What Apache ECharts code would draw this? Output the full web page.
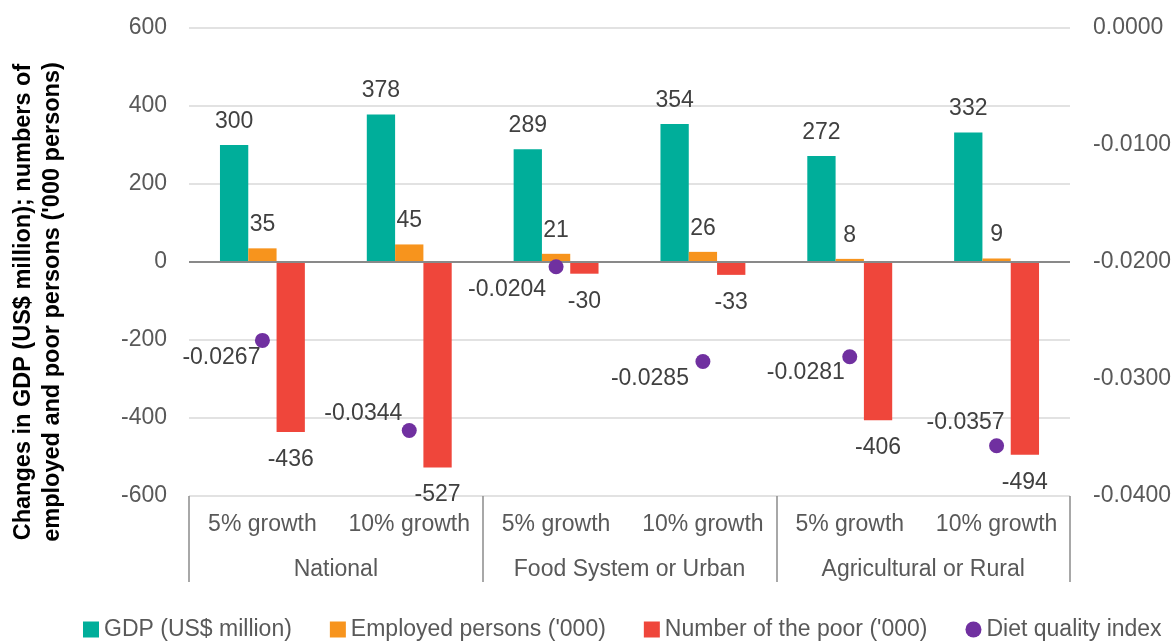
<!DOCTYPE html>
<html>
<head>
<meta charset="utf-8">
<script src="https://cdn.jsdelivr.net/npm/echarts@6/dist/echarts.min.js"></script>
<style>
html,body{margin:0;padding:0;background:#fff;}
#chart{width:1175px;height:641px;}
</style>
</head>
<body>
<div id="chart"></div>
<script>
// ---- data ----
var scenarios = ['5% growth', '10% growth', '5% growth', '10% growth', '5% growth', '10% growth'];
var groups = ['National', 'Food System or Urban', 'Agricultural or Rural'];
var gdp = [300, 378, 289, 354, 272, 332];
var employed = [35, 45, 21, 26, 8, 9];
var poor = [-436, -527, -30, -33, -406, -494];
var diet = [-0.0267, -0.0344, -0.0204, -0.0285, -0.0281, -0.0357];
var seriesNames = ['GDP (US$ million)', "Employed persons ('000)", "Number of the poor ('000)", 'Diet quality index'];
var leftTicks = {min: -600, max: 600, interval: 200};
var rightTicks = {min: -0.04, max: 0, interval: 0.01};

// label placement for the diet points (screen offsets, style only)
var dietLabelOffsets = [[-41, 17], [-46, -17], [-49, 23], [-53, 17], [-44, 16], [-31, -23]];

var FONT = '"Liberation Sans", Arial, sans-serif';
var TXT = '#595959';
var LBL = '#404040';

var chart = echarts.init(document.getElementById('chart'), null, {renderer: 'canvas'});

var dietData = diet.map(function (v, i) {
  return {value: v, label: {offset: dietLabelOffsets[i]}};
});

var option = {
  animation: false,
  textStyle: {fontFamily: FONT},
  grid: {left: 189, right: 105, top: 28, bottom: 145, containLabel: false},
  legend: {
    left: 78, top: 613, width: 1097,
    itemWidth: 16, itemHeight: 16, itemGap: 38,
    textStyle: {fontSize: 23, color: TXT, fontFamily: FONT},
    data: [
      {name: seriesNames[0], icon: 'rect'},
      {name: seriesNames[1], icon: 'rect'},
      {name: seriesNames[2], icon: 'rect'},
      {name: seriesNames[3], icon: 'circle'}
    ]
  },
  xAxis: [
    {
      type: 'category', data: scenarios, position: 'bottom',
      axisLine: {show: false, onZero: false},
      axisTick: {show: false},
      axisLabel: {interval: 0, margin: 17, fontSize: 23, color: TXT, fontFamily: FONT},
      splitLine: {show: false}
    },
    {
      type: 'category', data: groups, position: 'bottom',
      axisLine: {show: false, onZero: false},
      axisTick: {show: true, length: 86, interval: 0, alignWithLabel: false,
                 lineStyle: {color: '#8c8c8c', width: 1.5}},
      axisLabel: {interval: 0, margin: 62, fontSize: 23, color: TXT, fontFamily: FONT},
      splitLine: {show: false}
    }
  ],
  yAxis: [
    {
      type: 'value', min: leftTicks.min, max: leftTicks.max, interval: leftTicks.interval,
      axisLine: {show: false}, axisTick: {show: false},
      axisLabel: {margin: 22, fontSize: 23, color: TXT, fontFamily: FONT},
      splitLine: {show: true, lineStyle: {color: '#d9d9d9', width: 1.5}}
    },
    {
      type: 'value', min: rightTicks.min, max: rightTicks.max, interval: rightTicks.interval,
      position: 'right',
      axisLine: {show: false}, axisTick: {show: false},
      axisLabel: {margin: 23, fontSize: 23, color: TXT, fontFamily: FONT,
                  formatter: function (v) { return v.toFixed(4); }},
      splitLine: {show: false}
    }
  ],
  graphic: [
    {
      type: 'text', x: 38, y: 302, rotation: Math.PI / 2,
      style: {
        text: "Changes in GDP (US$ million); numbers of\nemployed and poor persons ('000 persons)",
        fontSize: 23.5, fontWeight: 'bold', fontFamily: FONT, fill: '#000',
        align: 'center', verticalAlign: 'middle', lineHeight: 29
      }
    }
  ],
  series: [
    {
      name: seriesNames[0], type: 'bar', data: gdp, xAxisIndex: 0, yAxisIndex: 0,
      barWidth: 28.3, barGap: '0%',
      itemStyle: {color: '#00ae9a'},
      label: {show: true, position: 'top', distance: 12, fontSize: 23, color: LBL, fontFamily: FONT},
      markLine: {
        silent: true, symbol: ['none', 'none'], label: {show: false},
        lineStyle: {color: '#898989', width: 2, type: 'solid'},
        data: [{yAxis: 0}]
      }
    },
    {
      name: seriesNames[1], type: 'bar', data: employed, xAxisIndex: 0, yAxisIndex: 0,
      barWidth: 28.3, barGap: '0%',
      itemStyle: {color: '#f7941d'},
      label: {show: true, position: 'top', distance: 12, fontSize: 23, color: LBL, fontFamily: FONT}
    },
    {
      name: seriesNames[2], type: 'bar', data: poor, xAxisIndex: 0, yAxisIndex: 0,
      barWidth: 28.3, barGap: '0%',
      itemStyle: {color: '#ef463b'},
      label: {show: true, position: 'bottom', distance: 16, fontSize: 23, color: LBL, fontFamily: FONT}
    },
    {
      name: seriesNames[3], type: 'scatter', data: dietData, xAxisIndex: 0, yAxisIndex: 1,
      symbol: 'circle', symbolSize: 15, z: 5,
      itemStyle: {color: '#7030a0', opacity: 1},
      emphasis: {disabled: true},
      label: {show: true, position: 'inside', fontSize: 23, color: LBL, opacity: 1, fontFamily: FONT,
              formatter: function (p) { return p.value.toFixed(4); }}
    }
  ]
};
chart.setOption(option);
</script>
</body>
</html>
